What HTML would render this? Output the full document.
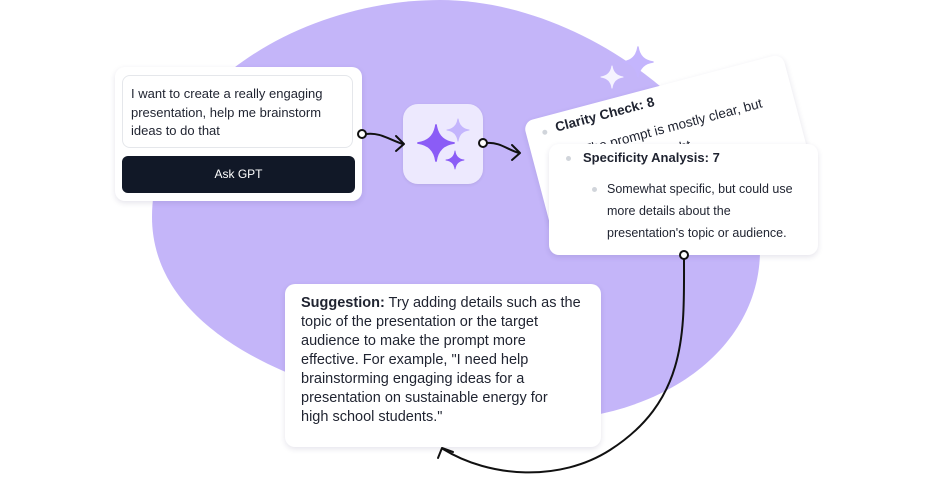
<!DOCTYPE html>
<html><head><meta charset="utf-8"><style>
html,body{margin:0;padding:0;background:#fff;}
body{width:932px;height:481px;position:relative;overflow:hidden;font-family:"Liberation Sans",sans-serif;color:#1f2330;}
.abs{position:absolute;}
.card{position:absolute;background:#fff;border-radius:10px;box-shadow:0 2px 6px rgba(40,30,90,0.12);}
</style></head><body>
<svg class="abs" style="left:0;top:0" width="932" height="481">
  <path d="M152,217 C152,90 300,0 440,0 C590,0 750,130 760,250 C760,350 660,420 540,420 C380,420 152,360 152,217Z" fill="#c4b5f9"/>
</svg>

<!-- back rotated card -->
<div class="card" style="left:523px;top:122px;width:268px;height:112px;transform-origin:0 0;transform:rotate(-14.8deg);font-size:13.5px;">
  <div class="abs" style="left:16px;top:13px;width:5px;height:5px;border-radius:50%;background:#d1d5db"></div>
  <div class="abs" style="left:30px;top:6px;font-weight:bold;">Clarity Check: 8</div>
  <div class="abs" style="left:52px;top:32px;width:210px;line-height:22px;">The prompt is mostly clear, but could use a slight</div>
</div>

<!-- left card -->
<div class="card" style="left:115px;top:67px;width:247px;height:134px;">
  <div class="abs" style="left:7px;top:8px;width:231px;height:73px;border:1px solid #e5e7eb;border-radius:8px;box-sizing:border-box;"></div>
  <div class="abs" style="left:16px;top:18px;width:220px;font-size:13px;line-height:18.5px;">I want to create a really engaging presentation, help me brainstorm ideas to do that</div>
  <div class="abs" style="left:7px;top:89px;width:233px;height:37px;background:#111827;border-radius:6px;color:#fff;font-size:12px;line-height:37px;text-align:center;">Ask GPT</div>
</div>

<!-- icon -->
<div class="abs" style="left:403px;top:104px;width:80px;height:80px;border-radius:15px;background:#ede9fe;box-shadow:0 1px 3px rgba(0,0,0,0.08);"></div>

<!-- front card -->
<div class="card" style="left:549px;top:144px;width:269px;height:111px;font-size:12.5px;">
  <div class="abs" style="left:17px;top:12px;width:5px;height:5px;border-radius:50%;background:#d1d5db"></div>
  <div class="abs" style="left:34px;top:6px;font-weight:bold;font-size:13px;">Specificity Analysis: 7</div>
  <div class="abs" style="left:43px;top:43px;width:5px;height:5px;border-radius:50%;background:#d1d5db"></div>
  <div class="abs" style="left:58px;top:34px;width:196px;line-height:22px;">Somewhat specific, but could use more details about the presentation's topic or audience.</div>
</div>

<!-- suggestion card -->
<div class="card" style="left:285px;top:284px;width:316px;height:163px;">
  <div class="abs" style="left:16px;top:10px;white-space:nowrap;font-size:14.5px;line-height:19px;"><b>Suggestion:</b> Try adding details such as the<br>topic of the presentation or the target<br>audience to make the prompt more<br>effective. For example, "I need help<br>brainstorming engaging ideas for a<br>presentation on sustainable energy for<br>high school students."</div>
</div>

<svg class="abs" style="left:0;top:0" width="932" height="481">
  <defs>
    <path id="sp2" d="M0,-1 Q0.12,-0.12 1,0 Q0.12,0.12 0,1 Q-0.12,0.12 -1,0 Q-0.12,-0.12 0,-1Z"/>
  </defs>
  <use href="#sp2" transform="translate(612,77) scale(11)" fill="#f5f3ff" stroke="#f5f3ff" stroke-width="0.1" stroke-linejoin="round"/>
  <use href="#sp2" transform="translate(638,62) scale(15)" fill="#c4b5fd" stroke="#c4b5fd" stroke-width="0.1" stroke-linejoin="round"/>
  <use href="#sp2" transform="translate(436,143) scale(18)" fill="#8b5cf6" stroke="#8b5cf6" stroke-width="0.1" stroke-linejoin="round"/>
  <use href="#sp2" transform="translate(458,130) scale(11)" fill="#c4b5fd" stroke="#c4b5fd" stroke-width="0.1" stroke-linejoin="round"/>
  <use href="#sp2" transform="translate(455,160) scale(9)" fill="#8b5cf6" stroke="#8b5cf6" stroke-width="0.1" stroke-linejoin="round"/>
  <g fill="none" stroke="#111" stroke-width="2" stroke-linecap="round" stroke-linejoin="round">
    <path d="M366,134 C380,132 390,140 403,144"/>
    <path d="M396,136 L404,144 L396,151"/>
    <path d="M487,143 C500,142 508,150 519,153"/>
    <path d="M512,145 L520,153 L512,160"/>
    <path d="M684,259 C684,330 688,400 610,450 C560,482 490,478 443,449"/>
    <path d="M438,458 L442,448 L453,452"/>
  </g>
  <g fill="#fff" stroke="#111" stroke-width="2">
    <circle cx="362" cy="134" r="4"/>
    <circle cx="483" cy="143" r="4"/>
    <circle cx="684" cy="255" r="4"/>
  </g>
</svg>
</body></html>
